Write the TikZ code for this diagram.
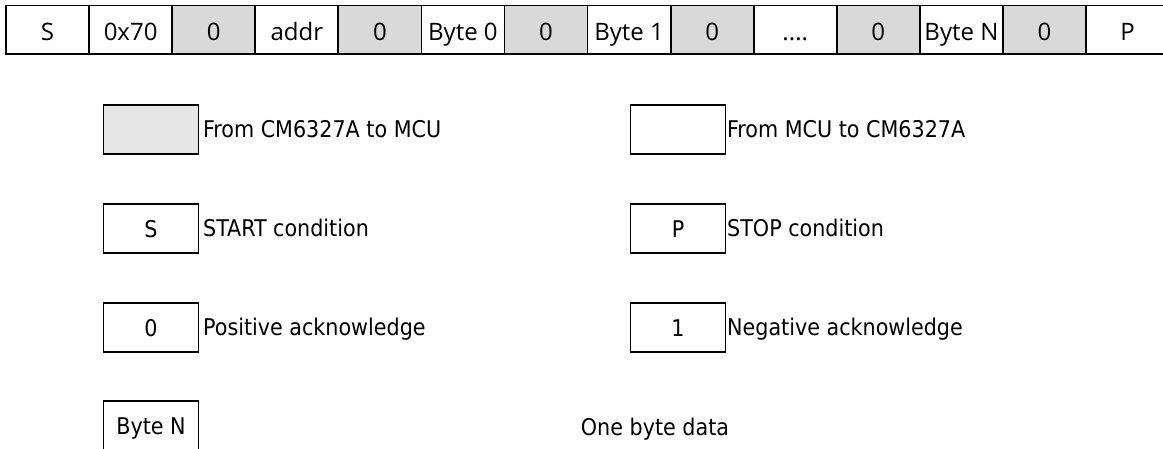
\documentclass[tikz,border=0pt]{standalone}
\usepackage{fontspec}
\newfontfamily\rowfont{Open Sans}
\newfontfamily\legfont{DejaVu Sans Condensed}
\definecolor{rowgray}{HTML}{D9D9D9}
\definecolor{leggray}{HTML}{E6E6E6}
\begin{document}
\begin{tikzpicture}[x=1pt,y=-1pt,
  cell/.style={draw=black, line width=1.8pt, minimum width=83.08pt, minimum height=48.5pt,
    inner sep=0pt, outer sep=0pt, anchor=north west, text height=22pt, text depth=1.5pt,
    font=\rowfont\fontsize{24}{28}\selectfont},
  ackcell/.style={cell, fill=rowgray},
  lbox/.style={draw=black, line width=1.8pt, minimum width=95pt, minimum height=49pt,
    inner sep=0pt, outer sep=0pt, anchor=north west, text height=18pt, text depth=1pt,
    font=\legfont\fontsize{23}{27}\selectfont},
  ltext/.style={anchor=base west, inner sep=0pt, font=\legfont\fontsize{23}{27}\selectfont}
]
\useasboundingbox (0,0) rectangle (1163,448);
% top frame
\node[cell]    (c1)  at (6+0*83.08,5.5) {S};
\node[cell]    (c2)  at (6+1*83.08,5.5) {0x70};
\node[ackcell] (c3)  at (6+2*83.08,5.5) {0};
\node[cell]    (c4)  at (6+3*83.08,5.5) {addr};
\node[ackcell] (c5)  at (6+4*83.08,5.5) {0};
\node[cell]    (c6)  at (6+5*83.08,5.5) {Byte 0};
\node[ackcell] (c7)  at (6+6*83.08,5.5) {0};
\node[cell]    (c8)  at (6+7*83.08,5.5) {Byte 1};
\node[ackcell] (c9)  at (6+8*83.08,5.5) {0};
\node[cell]    (c10) at (6+9*83.08,5.5) {....};
\node[ackcell] (c11) at (6+10*83.08,5.5) {0};
\node[cell]    (c12) at (6+11*83.08,5.5) {Byte N};
\node[ackcell] (c13) at (6+12*83.08,5.5) {0};
\node[cell]    (c14) at (6+13*83.08,5.5) {P};
% legend, left column
\node[lbox, fill=leggray] (l1) at (103.5,105) {};
\node[ltext] (t1) at (203,137) {From CM6327A to MCU};
\node[lbox] (l2) at (103.5,204) {S};
\node[ltext] (t2) at (203,236) {START condition};
\node[lbox] (l3) at (103.5,303) {0};
\node[ltext] (t3) at (203,335) {Positive acknowledge};
\node[lbox] (l4) at (103.5,401) {Byte N};
% legend, right column
\node[lbox] (r1) at (630.5,105) {};
\node[ltext] (u1) at (727,137) {From MCU to CM6327A};
\node[lbox] (r2) at (630.5,204) {P};
\node[ltext] (u2) at (727,236) {STOP condition};
\node[lbox] (r3) at (630.5,303) {1};
\node[ltext] (u3) at (727,335) {Negative acknowledge};
\node[ltext, anchor=base] (u4) at (655,435) {One byte data};
\end{tikzpicture}
\end{document}
